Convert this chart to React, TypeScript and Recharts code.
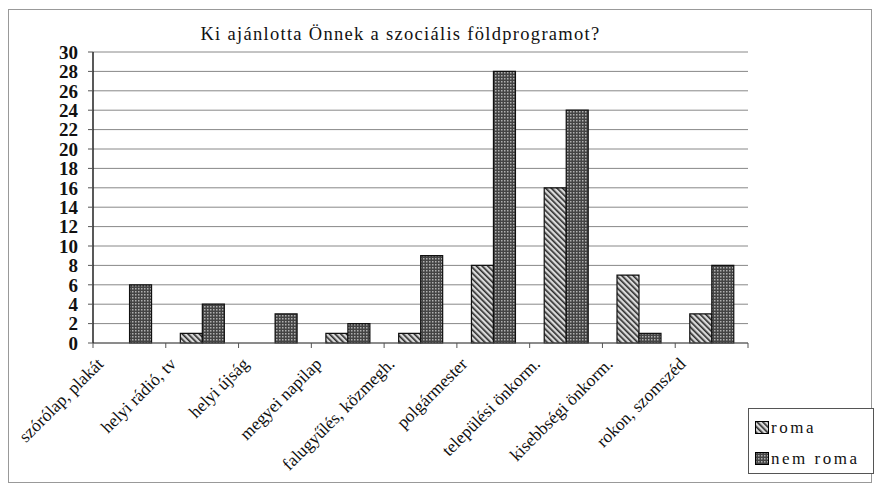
import { BarChart, Bar, XAxis, YAxis, CartesianGrid, Legend } from 'recharts'

const categories = [
  'szórólap, plakát',
  'helyi rádió, tv',
  'helyi újság',
  'megyei napilap',
  'falugyűlés, közmegh.',
  'polgármester',
  'települési önkorm.',
  'kisebbségi önkorm.',
  'rokon, szomszéd',
]
const roma = [0, 1, 0, 1, 1, 8, 16, 7, 3]
const nemRoma = [6, 4, 3, 2, 9, 28, 24, 1, 8]
const yTicks = [0, 2, 4, 6, 8, 10, 12, 14, 16, 18, 20, 22, 24, 26, 28, 30]

const data = categories.map((name, i) => ({ name, roma: roma[i], nemRoma: nemRoma[i] }))

const W = 879
const H = 495
const LEFT = 93
const RIGHT = 131
const BAND = (W - LEFT - RIGHT) / categories.length
const FONT = 'Liberation Serif, DejaVu Serif, serif'

// category label + boundary tick, Excel style
function XTick(props: any) {
  const { x, y, payload, index } = props
  const ax = x - 25
  const ay = y + 22
  return (
    <g>
      <line x1={x - BAND / 2} y1={y} x2={x - BAND / 2} y2={y + 5} stroke="#555" />
      {index === categories.length - 1 && (
        <line x1={x + BAND / 2} y1={y} x2={x + BAND / 2} y2={y + 5} stroke="#555" />
      )}
      <text x={ax} y={ay} transform={`rotate(-45 ${ax} ${ay})`} textAnchor="end"
        fontSize={17.5} fontFamily={FONT} fill="#111">
        {payload.value}
      </text>
    </g>
  )
}

function LegendBox() {
  const rows = [
    { label: 'roma', fill: 'url(#stripes)' },
    { label: 'nem roma', fill: 'url(#checks)' },
  ]
  return (
    <div style={{
      width: 126, height: 66, border: '1px solid #555', background: '#fff',
      fontFamily: FONT, fontSize: 17, letterSpacing: 2.5, color: '#111', boxSizing: 'border-box',
      paddingTop: 6, paddingLeft: 6,
    }}>
      {rows.map((r) => (
        <div key={r.label} style={{ display: 'flex', alignItems: 'center', height: 25, marginBottom: 6 }}>
          <svg width={14} height={13} style={{ marginRight: 2 }}>
            <rect x={0.5} y={0.5} width={13} height={12} fill={r.fill} stroke="#000" />
          </svg>
          <span>{r.label}</span>
        </div>
      ))}
    </div>
  )
}

export default function App() {
  return (
    <div style={{ position: 'absolute', left: 0, top: 0, width: W, height: H, background: '#fff' }}>
      <div style={{
        position: 'absolute', left: 8, top: 9, width: 864, height: 474,
        border: '1px solid #999', boxSizing: 'border-box',
      }} />
      <div style={{
        position: 'absolute', left: 0, top: 24, width: 801, textAlign: 'center',
        fontFamily: FONT, fontSize: 18.5, letterSpacing: 1.3, color: '#111',
      }}>
        Ki ajánlotta Önnek a szociális földprogramot?
      </div>
      <BarChart width={W} height={H} data={data}
        margin={{ top: 52, right: RIGHT, bottom: 0, left: 0 }}
        barCategoryGap="20%" barGap={0}>
        <defs>
          <pattern id="stripes" width={4} height={4} patternUnits="userSpaceOnUse" patternTransform="rotate(-45)">
            <rect width={4} height={4} fill="#dadada" />
            <rect width={1.6} height={4} fill="#2a2a2a" />
          </pattern>
          <pattern id="checks" width={3} height={3} patternUnits="userSpaceOnUse">
            <rect width={3} height={3} fill="#444" />
            <rect width={1.5} height={1.5} fill="#b0b0b0" />
          </pattern>
        </defs>
        <CartesianGrid vertical={false} stroke="#888" />
        <XAxis dataKey="name" interval={0} height={H - 343}
          tickLine={false} tickSize={0} tickMargin={0}
          axisLine={{ stroke: '#555' }} tick={<XTick />} />
        <YAxis domain={[0, 30]} ticks={yTicks} interval={0} width={LEFT}
          axisLine={{ stroke: '#222', strokeWidth: 1.5 }} tickLine={{ stroke: '#555' }} tickSize={5} tickMargin={10}
          tick={{ fill: '#111', fontSize: 19, fontWeight: 'bold', fontFamily: FONT }} />
        <YAxis yAxisId="r" orientation="right" width={0} domain={[0, 30]}
          tick={false} tickLine={false} axisLine={{ stroke: '#777' }} />
        <Bar dataKey="roma" name="roma" fill="url(#stripes)" stroke="#111" strokeWidth={1.2} isAnimationActive={false} />
        <Bar dataKey="nemRoma" name="nem roma" fill="url(#checks)" stroke="#111" strokeWidth={1.2} isAnimationActive={false} />
        <Legend layout="horizontal" verticalAlign="middle" align="center"
          wrapperStyle={{ left: 748, top: 408, width: 126, height: 66 }}
          content={() => <LegendBox />} />
      </BarChart>
    </div>
  )
}
